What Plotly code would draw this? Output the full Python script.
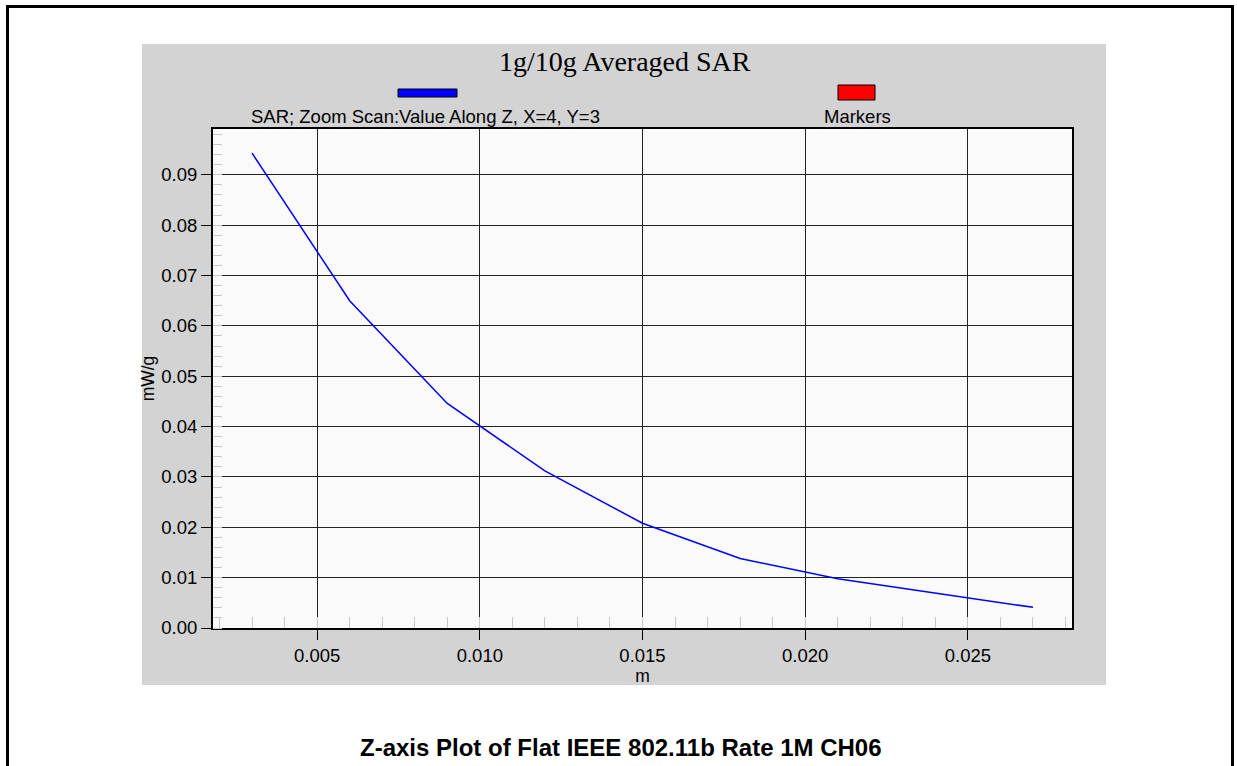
import plotly.graph_objects as go

# ---- data ----
z_m = [0.003, 0.006, 0.009, 0.012, 0.015, 0.018, 0.021, 0.024, 0.027]
sar_mwg = [0.0943, 0.0650, 0.0446, 0.0312, 0.0208, 0.0138, 0.0098, 0.0070, 0.0041]
x_range = [0.0018, 0.0282]
y_range = [0.0, 0.0991]

chart_title = "1g/10g Averaged SAR"
series_name = "SAR; Zoom Scan:Value Along Z, X=4, Y=3"
marker_name = "Markers"
x_title = "m"
y_title = "mW/g"
caption = "Z-axis Plot of Flat IEEE 802.11b Rate 1M CH06"

# ---- layout geometry (pixels) ----
W, H = 1237, 766
L, R, T, B = 213, 1072, 129, 628
PW, PH = R - L, B - T

def px(x):
    return (x - L) / PW

def py(y):
    return (B - y) / PH

fig = go.Figure()
fig.add_trace(go.Scatter(x=z_m, y=sar_mwg, mode="lines",
                         line=dict(color="#0000ff", width=1.5),
                         name=series_name, showlegend=False, hoverinfo="skip"))

shapes = []
# gray panel
shapes.append(dict(type="rect", xref="paper", yref="paper",
                   x0=px(142), x1=px(1106), y0=py(685), y1=py(44),
                   fillcolor="#d3d3d3", line=dict(width=0), layer="below"))
# plot background
shapes.append(dict(type="rect", xref="paper", yref="paper",
                   x0=0, x1=1, y0=0, y1=1,
                   fillcolor="#fafafa", line=dict(width=0), layer="below"))
# outer frame (left, top, right)
shapes.append(dict(type="line", xref="paper", yref="paper",
                   x0=px(7.5), x1=px(7.5), y0=py(5), y1=py(800),
                   line=dict(color="black", width=3)))
shapes.append(dict(type="line", xref="paper", yref="paper",
                   x0=px(6), x1=px(1234), y0=py(6.5), y1=py(6.5),
                   line=dict(color="black", width=3)))
shapes.append(dict(type="line", xref="paper", yref="paper",
                   x0=px(1232.5), x1=px(1232.5), y0=py(5), y1=py(800),
                   line=dict(color="black", width=3)))
# legend swatches
shapes.append(dict(type="rect", xref="paper", yref="paper",
                   x0=px(398), x1=px(457), y0=py(97), y1=py(89),
                   fillcolor="#0000ff", line=dict(color="black", width=1)))
shapes.append(dict(type="rect", xref="paper", yref="paper",
                   x0=px(838), x1=px(875), y0=py(100), y1=py(85),
                   fillcolor="#ff0000", line=dict(color="black", width=1)))

annotations = [
    dict(text=chart_title, xref="paper", yref="paper", x=px(625), y=py(61),
         showarrow=False, xanchor="center", yanchor="middle",
         font=dict(family="Liberation Serif", size=28, color="black")),
    dict(text=series_name, xref="paper", yref="paper", x=px(425), y=py(117),
         showarrow=False, xanchor="center", yanchor="middle",
         font=dict(family="Liberation Sans", size=18.5, color="black")),
    dict(text=marker_name, xref="paper", yref="paper", x=px(857), y=py(117),
         showarrow=False, xanchor="center", yanchor="middle",
         font=dict(family="Liberation Sans", size=18.5, color="black")),
    dict(text="<b>" + caption + "</b>", xref="paper", yref="paper", x=px(621), y=py(747),
         showarrow=False, xanchor="center", yanchor="middle",
         font=dict(family="Liberation Sans", size=24, color="black")),
]

fig.update_layout(
    width=W, height=H,
    margin=dict(l=L, r=W - R, t=T, b=H - B, pad=0),
    paper_bgcolor="white", plot_bgcolor="#fafafa",
    shapes=shapes, annotations=annotations, showlegend=False,
    font=dict(family="Liberation Sans", size=18, color="black"),
)

fig.update_xaxes(
    range=x_range, tick0=0, dtick=0.005, tickformat=".3f",
    ticks="outside", ticklen=10, tickcolor="black", tickwidth=1,
    showgrid=True, gridcolor="#222222", gridwidth=1,
    showline=True, linecolor="black", linewidth=2, mirror=True,
    zeroline=False,
    minor=dict(dtick=0.001, tick0=0, ticks="inside", ticklen=11,
               tickcolor="#c8c8c8", tickwidth=1, showgrid=False),
    title=dict(text=x_title, standoff=2, font=dict(size=17.5)),
    tickfont=dict(size=18.5),
)
fig.update_yaxes(
    range=y_range, tick0=0, dtick=0.01, tickformat=".2f",
    ticks="outside", ticklen=10, tickcolor="black", tickwidth=1,
    showgrid=True, gridcolor="#222222", gridwidth=1,
    showline=True, linecolor="black", linewidth=2, mirror=True,
    zeroline=False,
    minor=dict(dtick=0.002, tick0=0, ticks="inside", ticklen=9,
               tickcolor="#c8c8c8", tickwidth=1, showgrid=False),
    title=dict(text=y_title, standoff=2, font=dict(size=17.5)),
    tickfont=dict(size=18.5),
)

fig.write_html("out.html",
               config={"displayModeBar": False, "staticPlot": True},
               post_script="document.body.style.margin='0';document.body.style.overflow='hidden';")
